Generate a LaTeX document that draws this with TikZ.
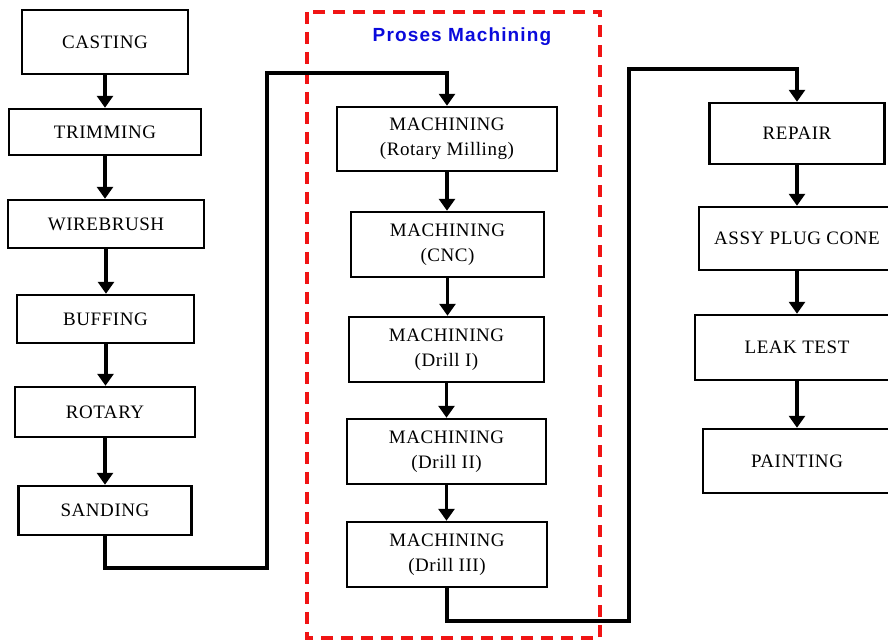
\documentclass[tikz,border=0pt]{standalone}
\usepackage{fontspec}
\setmainfont[LetterSpace=3]{Liberation Serif}
\newfontfamily\titlefont[LetterSpace=6]{Liberation Sans}
\usetikzlibrary{arrows.meta}
\definecolor{procred}{RGB}{240,20,20}
\definecolor{procblue}{RGB}{10,10,220}
\tikzset{
  stepbox/.style={draw=black, line width=2.5pt, rectangle, inner sep=0pt,
    align=center, font=\fontsize{19}{25}\selectfont},
  flow/.style={line width=4pt, -{Triangle[width=16pt,length=12pt]}},
  link/.style={line width=3.5pt, -{Triangle[width=16pt,length=12pt]}},
}
\begin{document}
\begin{tikzpicture}[x=1pt,y=-1pt]
\useasboundingbox (0,0) rectangle (888,640);
\clip (0,0) rectangle (888,640);
\fill[white] (0,0) rectangle (888,640);

% left column
\node[stepbox, minimum width=166pt, minimum height=64pt] (cast) at (105,42) {CASTING};
\node[stepbox, minimum width=192pt, minimum height=46pt] (trim) at (105,132) {TRIMMING};
\node[stepbox, minimum width=196pt, minimum height=48pt] (wire) at (106,224) {WIREBRUSH};
\node[stepbox, minimum width=177pt, minimum height=48pt] (buff) at (105.5,319) {BUFFING};
\node[stepbox, minimum width=180pt, minimum height=50pt] (rot) at (105,412) {ROTARY};
\node[stepbox, minimum width=173pt, minimum height=49pt] (sand) at (105,510.5) {SANDING};

\draw[flow] (cast.south) -- (cast.south |- trim.north);
\draw[flow] (trim.south) -- (trim.south |- wire.north);
\draw[flow] (wire.south) -- (wire.south |- buff.north);
\draw[flow] (buff.south) -- (buff.south |- rot.north);
\draw[flow] (rot.south) -- (rot.south |- sand.north);

% machining group
\draw[procred, line width=4pt, dash pattern=on 12pt off 8pt] (307,12) rectangle (600,638);
\node[text=procblue, font=\titlefont\bfseries\fontsize{19}{22}\selectfont] (title) at (462,37) {Proses Machining};

\node[stepbox, minimum width=220pt, minimum height=64pt] (m1) at (447,139) {MACHINING\\(Rotary Milling)};
\node[stepbox, minimum width=193pt, minimum height=65pt] (m2) at (447.5,244.5) {MACHINING\\(CNC)};
\node[stepbox, minimum width=195pt, minimum height=65pt] (m3) at (446.5,349.5) {MACHINING\\(Drill I)};
\node[stepbox, minimum width=199pt, minimum height=65pt] (m4) at (446.5,451.5) {MACHINING\\(Drill II)};
\node[stepbox, minimum width=200pt, minimum height=65pt] (m5) at (447,554.5) {MACHINING\\(Drill III)};

\draw[flow, line width=3.5pt] (m1.south) -- (m1.south |- m2.north);
\draw[flow, line width=3.5pt] (m2.south) -- (m2.south |- m3.north);
\draw[flow, line width=3.5pt] (m3.south) -- (m3.south |- m4.north);
\draw[flow, line width=3.5pt] (m4.south) -- (m4.south |- m5.north);

% right column
\node[stepbox, minimum width=175pt, minimum height=61pt] (rep) at (797,133.5) {REPAIR};
\node[stepbox, minimum width=196pt, minimum height=63pt] (assy) at (797,238.5) {ASSY PLUG CONE};
\node[stepbox, minimum width=204pt, minimum height=65pt] (leak) at (797,347.5) {LEAK TEST};
\node[stepbox, minimum width=188pt, minimum height=64pt] (paint) at (797,461) {PAINTING};

\draw[flow] (rep.south) -- (rep.south |- assy.north);
\draw[flow] (assy.south) -- (assy.south |- leak.north);
\draw[flow] (leak.south) -- (leak.south |- paint.north);

% links between columns
\coordinate (a1) at (267,568);
\coordinate (a2) at (267,73);
\draw[link] (sand.south) |- (a1) -- (a2) -| (m1.north);

\coordinate (b1) at (629,621);
\coordinate (b2) at (629,69);
\draw[link] (m5.south) |- (b1) -- (b2) -| (rep.north);
\end{tikzpicture}
\end{document}
